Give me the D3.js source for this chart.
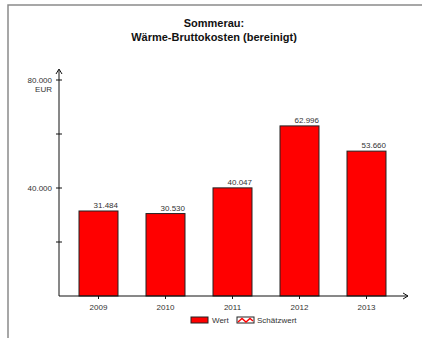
<!DOCTYPE html>
<html>
<head>
<meta charset="utf-8">
<script src="https://cdn.jsdelivr.net/npm/d3@7"></script>
<style>
  body { margin: 0; background: #fff; }
  svg { display: block; font-family: "Liberation Sans", Arial, sans-serif; }
</style>
</head>
<body>
<div id="container"></div>
<script>
// data
const years = ["2009", "2010", "2011", "2012", "2013"];
const values = [31484, 30530, 40047, 62996, 53660];
const yTicks = [0, 20000, 40000, 60000, 80000];
const yLabels = { 40000: "40.000", 80000: "80.000" };
const titleLines = ["Sommerau:", "Wärme-Bruttokosten (bereinigt)"];
const legendItems = ["Wert", "Schätzwert"];

const width = 422, height = 338;
const svg = d3.select("#container").append("svg")
    .attr("width", width)
    .attr("height", height);

// frame
svg.append("path")
    .attr("d", "M8,338 V5 H422")
    .attr("fill", "none")
    .attr("stroke", "#8a8a8a")
    .attr("stroke-width", 1.5);

// title
svg.append("g").selectAll("text")
    .data(titleLines)
    .enter().append("text")
    .attr("x", 214)
    .attr("y", (d, i) => 27 + i * 14)
    .attr("text-anchor", "middle")
    .attr("font-size", 11)
    .attr("font-weight", "bold")
    .attr("fill", "#111")
    .text(d => d);

// scales
const x = d3.scaleBand()
    .domain(years)
    .range([65, 400])
    .paddingInner(0.418)
    .paddingOuter(0.209);
const y = d3.scaleLinear()
    .domain([0, 80000])
    .range([296, 80]);

const x0 = 59;

// bars
svg.append("g").selectAll("rect")
    .data(values)
    .enter().append("rect")
    .attr("x", (d, i) => x(years[i]))
    .attr("y", d => y(d))
    .attr("width", x.bandwidth())
    .attr("height", d => y(0) - y(d))
    .attr("fill", "#ff0000")
    .attr("stroke", "#222")
    .attr("stroke-width", 1);

// value labels
const fmt = d3.formatLocale({ decimal: ",", thousands: ".", grouping: [3], currency: ["", " EUR"] }).format(",d");
svg.append("g").selectAll("text")
    .data(values)
    .enter().append("text")
    .attr("x", (d, i) => x(years[i]) + x.bandwidth())
    .attr("y", d => y(d) - 3)
    .attr("text-anchor", "end")
    .attr("font-size", 8)
    .attr("fill", "#333")
    .text(d => fmt(d));

// y axis
svg.append("line")
    .attr("x1", x0).attr("x2", x0)
    .attr("y1", y(0)).attr("y2", 70)
    .attr("stroke", "#111");
svg.append("path")
    .attr("d", "M" + (x0 - 3) + ",74 L" + x0 + ",69 L" + (x0 + 3) + ",74")
    .attr("fill", "none")
    .attr("stroke", "#111");
svg.append("g").selectAll("line")
    .data(yTicks.slice(1))
    .enter().append("line")
    .attr("x1", x0 - 3).attr("x2", x0 + 3)
    .attr("y1", d => y(d)).attr("y2", d => y(d))
    .attr("stroke", "#111");
svg.append("g").selectAll("text")
    .data(yTicks.filter(d => yLabels[d]))
    .enter().append("text")
    .attr("x", x0 - 7)
    .attr("y", d => y(d) + 3)
    .attr("text-anchor", "end")
    .attr("font-size", 8)
    .attr("fill", "#333")
    .text(d => yLabels[d]);
svg.append("text")
    .attr("x", x0 - 7)
    .attr("y", y(80000) + 12)
    .attr("text-anchor", "end")
    .attr("font-size", 8)
    .attr("fill", "#333")
    .text("EUR");

// x axis
svg.append("line")
    .attr("x1", x0).attr("x2", 408)
    .attr("y1", y(0)).attr("y2", y(0))
    .attr("stroke", "#111");
svg.append("path")
    .attr("d", "M403," + (y(0) - 3) + " L408," + y(0) + " L403," + (y(0) + 3))
    .attr("fill", "none")
    .attr("stroke", "#111");
svg.append("g").selectAll("line")
    .data(years)
    .enter().append("line")
    .attr("x1", d => x(d) + x.bandwidth() / 2)
    .attr("x2", d => x(d) + x.bandwidth() / 2)
    .attr("y1", y(0)).attr("y2", y(0) + 3)
    .attr("stroke", "#111");
svg.append("g").selectAll("text")
    .data(years)
    .enter().append("text")
    .attr("x", d => x(d) + x.bandwidth() / 2)
    .attr("y", y(0) + 14)
    .attr("text-anchor", "middle")
    .attr("font-size", 8)
    .attr("fill", "#333")
    .text(d => d);

// legend
const legend = svg.append("g").attr("transform", "translate(191,317)");
legend.append("rect")
    .attr("x", 0).attr("y", 0)
    .attr("width", 17).attr("height", 6)
    .attr("fill", "#ff0000")
    .attr("stroke", "#222");
legend.append("text")
    .attr("x", 21).attr("y", 6)
    .attr("font-size", 8)
    .attr("fill", "#333")
    .text(legendItems[0]);
legend.append("rect")
    .attr("x", 46).attr("y", 0)
    .attr("width", 17).attr("height", 6)
    .attr("fill", "#fff")
    .attr("stroke", "#222");
legend.append("path")
    .attr("d", "M47,5 L51,1.5 L55,5 L59,1.5 L62,4")
    .attr("fill", "none")
    .attr("stroke", "#ff0000")
    .attr("stroke-width", 1.5);
legend.append("text")
    .attr("x", 66).attr("y", 6)
    .attr("font-size", 8)
    .attr("fill", "#333")
    .text(legendItems[1]);
</script>
</body>
</html>
